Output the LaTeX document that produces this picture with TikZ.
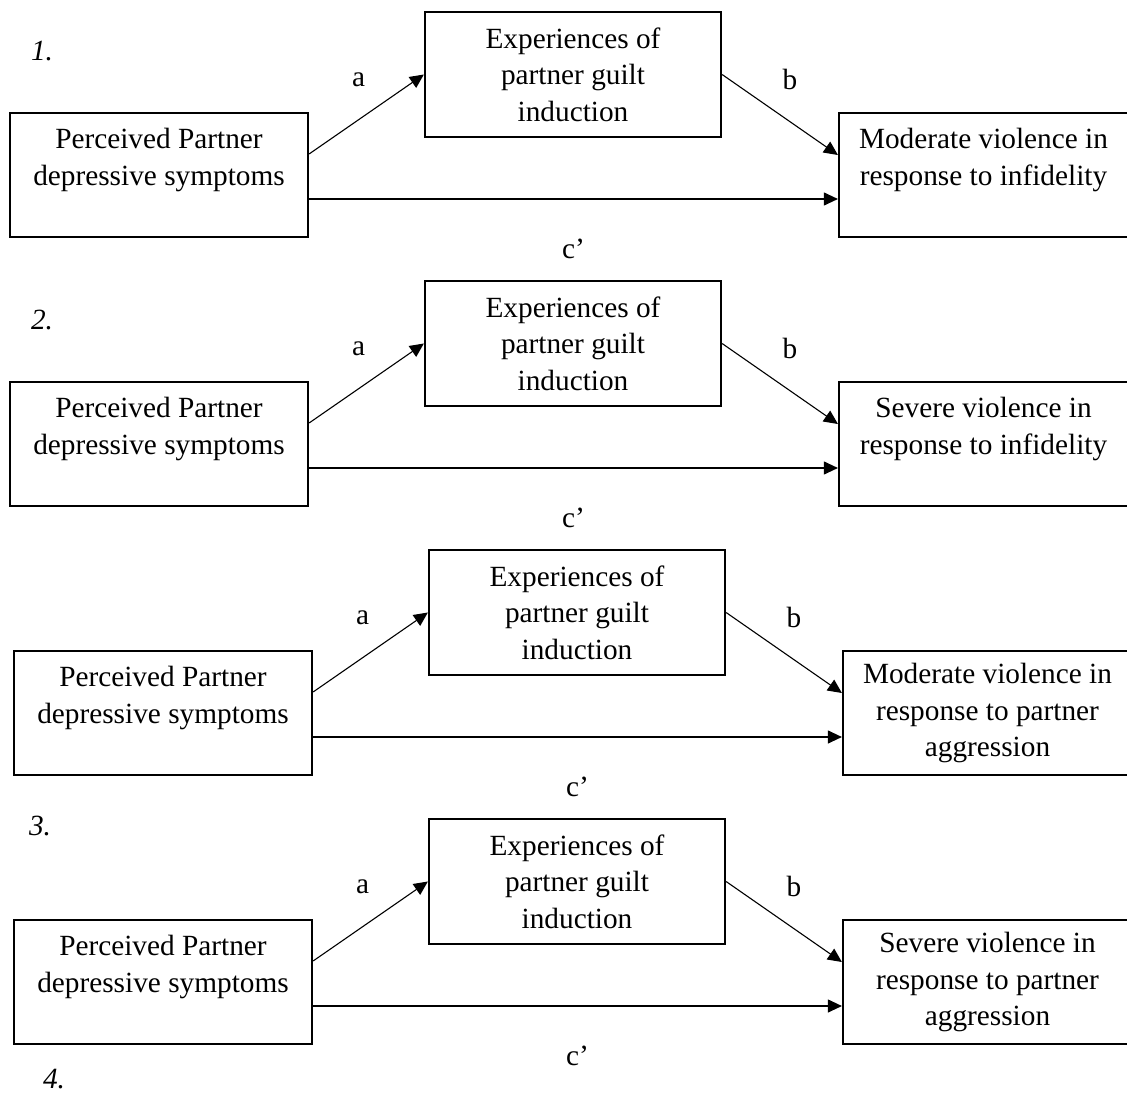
\documentclass[tikz,border=0pt]{standalone}
\usepackage{fontspec}
\setmainfont{Liberation Serif}
\usetikzlibrary{arrows.meta}

\tikzset{
    every node/.style={font=\fontsize{29.3pt}{36.5pt}\selectfont},
    varbox/.style={draw, line width=2.2pt, align=center, inner sep=0pt},
    predbox/.style={varbox, minimum width=298pt, minimum height=124pt},
    medbox/.style={varbox, minimum width=296pt, minimum height=125pt},
    outbox/.style={varbox, minimum width=289pt, minimum height=124pt},
    patharrow/.style={line width=1.1pt, -{Triangle[length=14pt,width=13pt]}},
    pathlabel/.style={inner sep=0pt},
    panelnum/.style={inner sep=0pt, font=\fontsize{29.3pt}{36.5pt}\selectfont\itshape}
}

\begin{document}
\begin{tikzpicture}[x=1pt, y=-1pt]
    \useasboundingbox (0,0) rectangle (1127,1094);

    % First model: moderate violence, infidelity
    \begin{scope}[shift={(0,0)}]
        \node[panelnum] (num1) at (42,51) {1.};
        \node[predbox] (L1) at (159,175) {Perceived Partner\\depressive symptoms\\\mbox{}};
        \node[medbox]  (M1) at (573,74.5) {Experiences of\\partner guilt\\induction};
        \node[outbox]  (R1) at (983.5,175) {Moderate violence in\\response to infidelity\\\mbox{}};

        % Draw the paths a, b and c'
        \draw[patharrow] ([yshift=21pt]L1.east) -- node[pathlabel, xshift=-8pt, yshift=34pt]{a} (M1.west);
        \draw[patharrow] (M1.east) -- node[pathlabel, xshift=10pt, yshift=35pt]{b} ([yshift=20pt]R1.west);
        \draw[patharrow] ([yshift=-24pt]L1.east) -- node[pathlabel, yshift=-50pt]{c’} ([yshift=-24pt]R1.west);
    \end{scope}

    % Second model: severe violence, infidelity
    \begin{scope}[shift={(0,269)}]
        \node[panelnum] (num2) at (42,51) {2.};
        \node[predbox] (L2) at (159,175) {Perceived Partner\\depressive symptoms\\\mbox{}};
        \node[medbox]  (M2) at (573,74.5) {Experiences of\\partner guilt\\induction};
        \node[outbox]  (R2) at (983.5,175) {Severe violence in\\response to infidelity\\\mbox{}};

        % Draw the paths a, b and c'
        \draw[patharrow] ([yshift=21pt]L2.east) -- node[pathlabel, xshift=-8pt, yshift=34pt]{a} (M2.west);
        \draw[patharrow] (M2.east) -- node[pathlabel, xshift=10pt, yshift=35pt]{b} ([yshift=20pt]R2.west);
        \draw[patharrow] ([yshift=-24pt]L2.east) -- node[pathlabel, yshift=-50pt]{c’} ([yshift=-24pt]R2.west);
    \end{scope}

    % Third model: moderate violence, partner aggression
    \begin{scope}[shift={(4,538)}]
        \node[panelnum] (num3) at (36,288) {3.};
        \node[predbox] (L3) at (159,175) {Perceived Partner\\depressive symptoms\\\mbox{}};
        \node[medbox]  (M3) at (573,74.5) {Experiences of\\partner guilt\\induction};
        \node[outbox]  (R3) at (983.5,175) {Moderate violence in\\response to partner\\aggression};

        % Draw the paths a, b and c'
        \draw[patharrow] ([yshift=21pt]L3.east) -- node[pathlabel, xshift=-8pt, yshift=34pt]{a} (M3.west);
        \draw[patharrow] (M3.east) -- node[pathlabel, xshift=10pt, yshift=35pt]{b} ([yshift=20pt]R3.west);
        \draw[patharrow] ([yshift=-24pt]L3.east) -- node[pathlabel, yshift=-50pt]{c’} ([yshift=-24pt]R3.west);
    \end{scope}

    % Fourth model: severe violence, partner aggression
    \begin{scope}[shift={(4,807)}]
        \node[panelnum] (num4) at (50,272) {4.};
        \node[predbox] (L4) at (159,175) {Perceived Partner\\depressive symptoms\\\mbox{}};
        \node[medbox]  (M4) at (573,74.5) {Experiences of\\partner guilt\\induction};
        \node[outbox]  (R4) at (983.5,175) {Severe violence in\\response to partner\\aggression};

        % Draw the paths a, b and c'
        \draw[patharrow] ([yshift=21pt]L4.east) -- node[pathlabel, xshift=-8pt, yshift=34pt]{a} (M4.west);
        \draw[patharrow] (M4.east) -- node[pathlabel, xshift=10pt, yshift=35pt]{b} ([yshift=20pt]R4.west);
        \draw[patharrow] ([yshift=-24pt]L4.east) -- node[pathlabel, yshift=-50pt]{c’} ([yshift=-24pt]R4.west);
    \end{scope}
\end{tikzpicture}
\end{document}
